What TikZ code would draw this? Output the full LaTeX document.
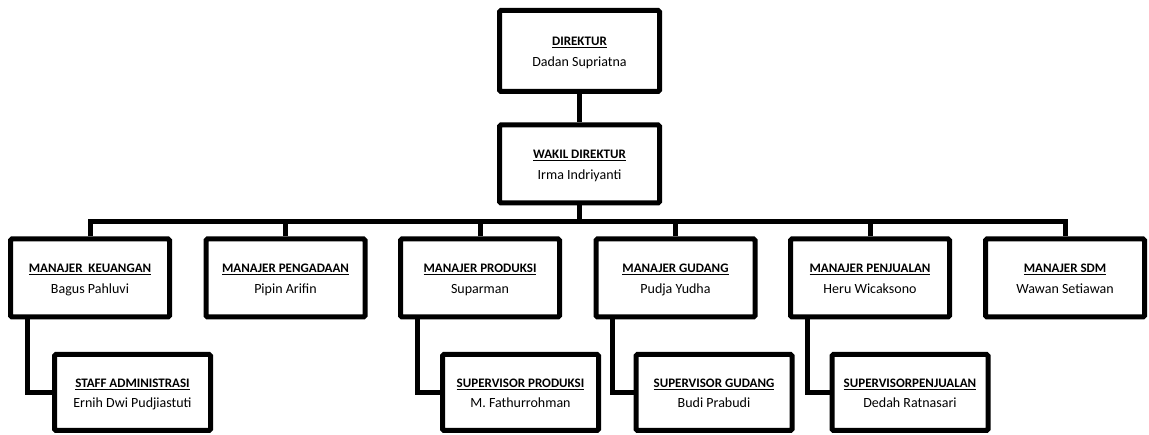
\documentclass[tikz,border=0pt]{standalone}
\usepackage{fontspec}
\setmainfont{Carlito}
\begin{document}
\begin{tikzpicture}[x=1pt,y=-1pt,
  box/.style={draw=black,line width=5pt,fill=white,inner sep=0pt,align=center,rounded corners=1.5pt,
    minimum width=159pt,minimum height=78pt,font=\fontsize{13}{20.5}\selectfont},
  subbox/.style={box,minimum width=156pt,minimum height=76pt},
  link/.style={draw=black,line width=5pt}]
\useasboundingbox (0,0) rectangle (1149,435);
\newcommand{\ttl}[2]{\rule{0pt}{15pt}\textbf{\underline{#1}}\\{\fontsize{14}{20.5}\selectfont #2}\rule[-5pt]{0pt}{5pt}}
\node[box,minimum width=160pt,minimum height=81pt] (dir) at (579.5,51) {\ttl{DIREKTUR}{Dadan Supriatna}};
\node[box,minimum width=160pt,minimum height=78pt] (wak) at (579.5,164) {\ttl{WAKIL DIREKTUR}{Irma Indriyanti}};
\node[box] (m1) at (90,278) {\ttl{MANAJER\ \ KEUANGAN}{Bagus Pahluvi}};
\node[box] (m2) at (285.5,278) {\ttl{MANAJER PENGADAAN}{Pipin Arifin}};
\node[box] (m3) at (480,278) {\ttl{MANAJER PRODUKSI}{Suparman}};
\node[box] (m4) at (675.5,278) {\ttl{MANAJER GUDANG}{Pudja Yudha}};
\node[box] (m5) at (870,278) {\ttl{MANAJER PENJUALAN}{Heru Wicaksono}};
\node[box] (m6) at (1065,278) {\ttl{MANAJER SDM}{Wawan Setiawan}};
\node[subbox] (s1) at (132.5,392.5) {\ttl{STAFF ADMINISTRASI}{Ernih Dwi Pudjiastuti}};
\node[subbox] (s3) at (520.5,392.5) {\ttl{SUPERVISOR PRODUKSI}{M. Fathurrohman}};
\node[subbox] (s4) at (714,392.5) {\ttl{SUPERVISOR GUDANG}{Budi Prabudi}};
\node[subbox] (s5) at (910,392.5) {\ttl{SUPERVISORPENJUALAN}{Dedah Ratnasari}};
\coordinate (bus) at (579.5,222);
\draw[link] (dir.south) -- (wak.north);
\draw[link] (wak.south) -- (bus);
\draw[link,line join=miter] (m1.north) |- (bus) -| (m6.north);
\foreach \m in {m2,m3,m4,m5} \draw[link] (\m.north) -- (\m.north |- bus);
\foreach \m/\s/\dx in {m1/s1/-63,m3/s3/-63,m4/s4/-63.5,m5/s5/-63}
  \draw[link,line join=miter] ([xshift=\dx pt]\m.south) |- (\s.west);
\end{tikzpicture}
\end{document}
